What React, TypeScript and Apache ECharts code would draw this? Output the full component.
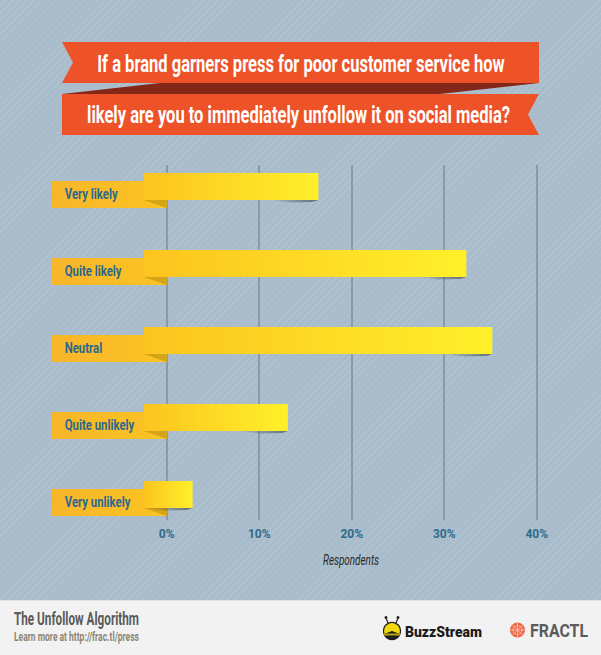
import React, { useEffect, useRef } from "react";
import * as echarts from "echarts";

const categories = ["Very likely", "Quite likely", "Neutral", "Quite unlikely", "Very unlikely"];
const values = [16.4, 32.4, 35.2, 13.1, 2.8];
const xMin = 0;
const xMax = 40;
const xInterval = 10;
const titleLines = [
  "If a brand garners press for poor customer service how",
  "likely are you to immediately unfollow it on social media?",
];
const axisName = "Respondents";
const footerTitle = "The Unfollow Algorithm";
const footerSub = "Learn more at http://frac.tl/press";
const brandA = "BuzzStream";
const brandB = "FRACTL";

const FAMILY = "Roboto, 'Noto Sans', sans-serif";

let measureCtx: CanvasRenderingContext2D | null = null;
function measure(text: string, size: number, weight = "bold", style = "normal", family = FAMILY) {
  if (!measureCtx) measureCtx = document.createElement("canvas").getContext("2d");
  measureCtx!.font = `${style} ${weight} ${size}px ${family}`;
  return measureCtx!.measureText(text).width;
}

function ctext(
  text: string,
  x: number,
  y: number,
  size: number,
  color: string,
  targetW: number,
  align = "left",
  weight = "bold",
  fstyle = "normal"
) {
  const s = targetW / measure(text, size, weight, fstyle);
  return {
    type: "text",
    x,
    y,
    scaleX: s,
    style: {
      text,
      fill: color,
      fontSize: size,
      fontWeight: weight,
      fontStyle: fstyle,
      fontFamily: FAMILY,
      align,
      textAlign: align,
      verticalAlign: "middle",
      textVerticalAlign: "middle",
    },
  };
}

export default function App() {
  const ref = useRef<HTMLDivElement>(null);
  useEffect(() => {
    document.body.style.margin = "0";
    const chart = echarts.init(ref.current!, null, { renderer: "svg" });
    const labelScale = 53 / measure("Very likely", 14);

    const renderItem = (params: any, api: any) => {
      const idx = api.value(1);
      const v = api.value(0);
      const [x0, cy] = api.coord([0, idx]);
      const [xe] = api.coord([v, idx]);
      const left = x0 - 23;
      return {
        type: "group",
        children: [
          {
            type: "rect",
            shape: { x: x0 - 115, y: cy - 9, width: 115, height: 27 },
            style: {
              fill: new echarts.graphic.LinearGradient(0, 0, 1, 0, [
                { offset: 0, color: "#f8b52b" },
                { offset: 1, color: "#fbc422" },
              ]),
            },
          },
          {
            type: "polygon",
            shape: { points: [[left, cy + 10], [x0, cy + 10], [x0, cy + 18]] },
            style: { fill: "#d4a516" },
          },
          {
            type: "polygon",
            shape: {
              points: [
                [Math.max(left, xe - 50), cy + 10],
                [xe, cy + 10],
                [xe - 6, cy + 12],
                [Math.max(left, xe - 28), cy + 12.5],
              ],
            },
            style: {
              fill: new echarts.graphic.LinearGradient(0, 0, 1, 0, [
                { offset: 0, color: "rgba(50,55,60,0)" },
                { offset: 1, color: "rgba(50,55,60,0.6)" },
              ]),
            },
          },
          {
            type: "rect",
            shape: { x: left, y: cy - 17, width: xe - left, height: 27 },
            style: {
              fill: new echarts.graphic.LinearGradient(0, 0, 1, 0, [
                { offset: 0, color: "#fcc41f" },
                { offset: 1, color: "#fff02a" },
              ]),
            },
          },
          {
            type: "text",
            x: x0 - 102,
            y: cy + 4.5,
            scaleX: labelScale,
            style: {
              text: categories[idx],
              fill: "#2b6890",
              fontSize: 14,
              fontWeight: "bold",
              fontFamily: FAMILY,
              align: "left",
              textAlign: "left",
              verticalAlign: "middle",
              textVerticalAlign: "middle",
            },
          },
        ],
      };
    };

    const option: any = {
      animation: false,
      backgroundColor: "transparent",
      grid: [
        { left: 166.7, width: 370, top: 151.5, height: 385 },
        { left: 166.7, width: 370, top: 165, height: 355 },
      ],
      xAxis: [
        { gridIndex: 0, type: "value", min: xMin, max: xMax, show: false },
        {
          gridIndex: 1,
          type: "value",
          min: xMin,
          max: xMax,
          interval: xInterval,
          axisLine: { show: false },
          axisTick: { show: false },
          splitLine: { show: true, lineStyle: { color: "#858f98", width: 1.5 } },
          axisLabel: {
            formatter: (val: number) => `${val}%`,
            color: "#2d6b8d",
            fontSize: 12,
            fontWeight: "bold",
            fontFamily: FAMILY,
            margin: 8,
          },
        },
      ],
      yAxis: [
        { gridIndex: 0, type: "category", data: categories, inverse: true, show: false },
        { gridIndex: 1, type: "value", min: 0, max: 1, show: false },
      ],
      series: [
        {
          type: "custom",
          xAxisIndex: 0,
          yAxisIndex: 0,
          data: values.map((v, i) => [v, i]),
          encode: { x: 0, y: 1 },
          renderItem,
        },
      ],
      graphic: [
        // title ribbons
        {
          type: "polygon",
          shape: { points: [[62, 94], [160, 83], [539, 83], [440, 94]] },
          style: { fill: "#852716" },
        },
        {
          type: "polygon",
          shape: { points: [[62, 42], [539, 42], [539, 83], [62, 83], [73, 62.5]] },
          style: { fill: "#ee5228" },
        },
        {
          type: "polygon",
          shape: { points: [[62, 94], [539, 94], [528, 114.5], [539, 135], [62, 135]] },
          style: { fill: "#ee5228" },
        },
        ctext(titleLines[0], 301, 63.5, 23, "#ffffff", 408, "center"),
        ctext(titleLines[1], 298.5, 115, 23, "#ffffff", 423, "center"),
        // axis name
        ctext(axisName, 351, 560, 14, "#2a2a2a", 56, "center", "normal", "italic"),
        // footer
        { type: "rect", shape: { x: 0, y: 600, width: 601, height: 55 }, style: { fill: "#f2f2f2" } },
        { type: "line", shape: { x1: 0, y1: 600.5, x2: 601, y2: 600.5 }, style: { stroke: "#dfe3e6", lineWidth: 1 } },
        ctext(footerTitle, 14, 619, 18, "#5a5a5a", 125, "left"),
        ctext(footerSub, 14, 637, 13, "#8b8573", 125, "left"),
        // bee logo
        { type: "line", shape: { x1: 388, y1: 623, x2: 386, y2: 618 }, style: { stroke: "#222", lineWidth: 1.2 } },
        { type: "line", shape: { x1: 396, y1: 623, x2: 398, y2: 618 }, style: { stroke: "#222", lineWidth: 1.2 } },
        { type: "circle", shape: { cx: 386, cy: 617.5, r: 1.5 }, style: { fill: "#222" } },
        { type: "circle", shape: { cx: 398, cy: 617.5, r: 1.5 }, style: { fill: "#222" } },
        { type: "circle", shape: { cx: 392, cy: 631, r: 8.5 }, style: { fill: "#f2d80e", stroke: "#1e1e1e", lineWidth: 1.2 } },
        { type: "sector", shape: { cx: 392, cy: 631, r: 8.5, r0: 0, startAngle: 0.35, endAngle: Math.PI - 0.35 }, style: { fill: "#1e1e1e" } },
        { type: "rect", shape: { x: 384, y: 633.5, width: 16, height: 2 }, style: { fill: "#b9a40c" } },
        ctext(brandA, 405, 632, 15, "#1b1b1b", 77, "left", "900"),
        // fractl logo
        { type: "circle", shape: { cx: 517.5, cy: 630, r: 7.5 }, style: { fill: "#ec6646" } },
        { type: "circle", shape: { cx: 517.5, cy: 630, r: 4.5 }, style: { fill: "none", stroke: "#f9c3b4", lineWidth: 0.8 } },
        { type: "line", shape: { x1: 510, y1: 630, x2: 525, y2: 630 }, style: { stroke: "#f9c3b4", lineWidth: 0.8 } },
        { type: "line", shape: { x1: 517.5, y1: 622.5, x2: 517.5, y2: 637.5 }, style: { stroke: "#f9c3b4", lineWidth: 0.8 } },
        { type: "line", shape: { x1: 512.2, y1: 624.7, x2: 522.8, y2: 635.3 }, style: { stroke: "#f9c3b4", lineWidth: 0.8 } },
        { type: "line", shape: { x1: 522.8, y1: 624.7, x2: 512.2, y2: 635.3 }, style: { stroke: "#f9c3b4", lineWidth: 0.8 } },
        ctext(brandB, 530, 630, 19, "#5c5c5c", 58, "left"),
      ],
    };
    chart.setOption(option);
    return () => chart.dispose();
  }, []);

  return (
    <div
      ref={ref}
      style={{
        width: 601,
        height: 655,
        background:
          "repeating-linear-gradient(135deg, #a9bccb 0px, #a9bccb 4px, #b1c3d1 4px, #b1c3d1 5px)",
      }}
    />
  );
}
